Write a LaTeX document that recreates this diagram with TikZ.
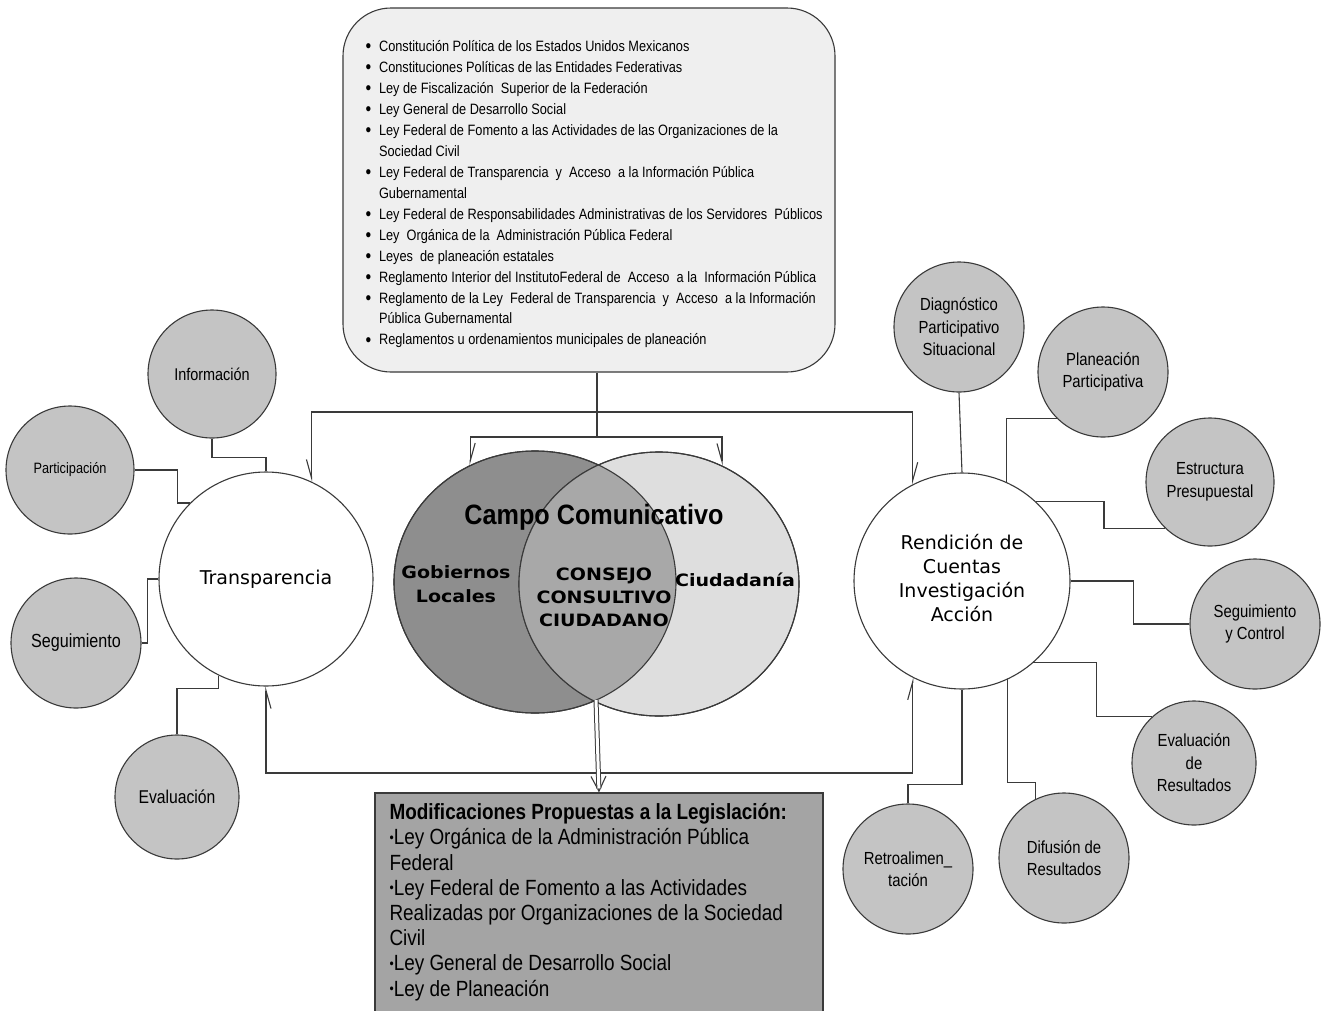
\documentclass[tikz,border=0pt]{standalone}
\usepackage{fontspec}
\setmainfont{Liberation Sans}
\newfontfamily\narrowf{Liberation Sans}[FakeStretch=0.85]
\newfontfamily\modf{Liberation Sans}[FakeStretch=0.86]
\newfontfamily\campof{Liberation Sans}[FakeStretch=0.9]
\newfontfamily\verd{DejaVu Sans}
\newfontfamily\verdb{DejaVu Sans}[FakeStretch=1.12]
\usetikzlibrary{shapes.geometric,arrows.meta}
\definecolor{lawfill}{HTML}{EFEFEF}
\definecolor{smallfill}{HTML}{C4C4C4}
\definecolor{gobfill}{HTML}{8E8E8E}
\definecolor{midfill}{HTML}{A8A8A8}
\definecolor{ciufill}{HTML}{DEDEDE}
\definecolor{modfill}{HTML}{A4A4A4}
\definecolor{linec}{HTML}{3A3A3A}
\newcommand\lawbul{\makebox[12.5pt][l]{\hspace*{-1pt}{\fontsize{19}{19}\selectfont\raisebox{-1.3pt}{\textbullet}}}}
\newcommand\lawind{\hspace*{12.5pt}}
\newcommand\modbul{{\fontsize{14}{14}\selectfont\raisebox{2.5pt}{\textbullet}}}
\begin{document}
\begin{tikzpicture}[x=1pt,y=-1pt, line width=1.1pt, color=linec,
  every node/.style={text=black},
  small/.style={circle, draw=linec, fill=smallfill, minimum size=#1, inner sep=0pt, align=center,
     font=\narrowf\fontsize{17.5}{22.5}\selectfont},
  small/.default=128pt,
  big/.style={circle, draw=linec, fill=white, minimum size=#1, inner sep=0pt, align=center,
     font=\verd\fontsize{19}{24}\selectfont},
  arr/.style={-{Straight Barb[harpoon,length=18pt,width=10pt,line width=1.1pt]}},
  arrs/.style={-{Straight Barb[harpoon,swap,length=18pt,width=10pt,line width=1.1pt]}},
]
\useasboundingbox (0,0) rectangle (1323,1010);
\fill[white] (0,0) rectangle (1323,1010);

% top box
\node[draw=linec, fill=lawfill, rounded corners=48pt, minimum width=492pt, minimum height=364pt, inner sep=0pt] (laws) at (589,190) {};
\node[anchor=north west, inner sep=0pt, align=left, font=\narrowf\fontsize{15}{20.95}\selectfont] (lawtext) at (366,40) {%
\lawbul Constitución Política de los Estados Unidos Mexicanos\\
\lawbul Constituciones Políticas de las Entidades Federativas\\
\lawbul Ley de Fiscalización \ Superior de la Federación\\
\lawbul Ley General de Desarrollo Social\\
\lawbul Ley Federal de Fomento a las Actividades de las Organizaciones de la\\
\lawind Sociedad Civil\\
\lawbul Ley Federal de Transparencia \ y \ Acceso \ a la Información Pública\\
\lawind Gubernamental\\
\lawbul Ley Federal de Responsabilidades Administrativas de los Servidores \ Públicos\\
\lawbul Ley \ Orgánica de la \ Administración Pública Federal\\
\lawbul Leyes \ de planeación estatales\\
\lawbul Reglamento Interior del InstitutoFederal de \ Acceso \ a la \ Información Pública\\
\lawbul Reglamento de la Ley \ Federal de Transparencia \ y \ Acceso \ a la Información\\
\lawind Pública Gubernamental\\
\lawbul Reglamentos u ordenamientos municipales de planeación};

% big circles
\node[big=214pt] (trans) at (266,579) {Transparencia};
\node[big=216pt] (rend) at (962,581) {\raisebox{-6pt}{\begin{tabular}{@{}c@{}}Rendición de\\Cuentas\\Investigación\\Acción\end{tabular}}};

% Venn
\node[ellipse, draw=linec, fill=gobfill, minimum width=282pt, minimum height=262pt, inner sep=0pt] (gob) at (535,582) {};
\node[ellipse, draw=linec, fill=ciufill, minimum width=280pt, minimum height=264pt, inner sep=0pt] (ciu) at (659,584) {};
\begin{scope}
  \clip (535,582) ellipse [x radius=141pt, y radius=131pt];
  \fill[midfill] (659,584) ellipse [x radius=140pt, y radius=132pt];
\end{scope}
\draw (535,582) ellipse [x radius=141pt, y radius=131pt];
\draw (659,584) ellipse [x radius=140pt, y radius=132pt];
\node[font=\campof\fontsize{28}{30}\selectfont\bfseries, inner sep=0pt] (campo) at (594,517) {Campo Comunicativo};
\node[font=\verdb\fontsize{17}{24}\selectfont\bfseries, align=center, inner sep=0pt] (gobt) at (456,584) {Gobiernos\\Locales};
\node[font=\verdb\fontsize{17}{23}\selectfont\bfseries, align=center, inner sep=0pt] (cons) at (604,597) {CONSEJO\\CONSULTIVO\\CIUDADANO};
\node[font=\verdb\fontsize{17}{24}\selectfont\bfseries, inner sep=0pt] (ciut) at (735,580) {Ciudadanía};
\coordinate (vb) at (596,700);

% bottom box
\node[draw=linec, fill=modfill, minimum width=448pt, minimum height=226pt, inner sep=0pt] (mods) at (599,906) {};
\node[anchor=north west, inner sep=0pt, align=left, font=\modf\fontsize{22}{25.2}\selectfont] (modtext) at (389,803) {%
\textbf{Modificaciones Propuestas a la Legislación:}\\
\modbul Ley Orgánica de la Administración Pública\\
Federal\\
\modbul Ley Federal de Fomento a las Actividades\\
Realizadas por Organizaciones de la Sociedad\\
Civil\\
\modbul Ley General de Desarrollo Social\\
\modbul Ley de Planeación};

% small circles left
\node[small, font=\narrowf\fontsize{17}{22}\selectfont] (info) at (212,374) {Información};
\node[small, font=\narrowf\fontsize{15}{20}\selectfont] (part) at (70,470) {Participación};
\node[small=130pt, font=\narrowf\fontsize{19}{22}\selectfont] (segu) at (76,643) {Seguimiento};
\node[small=124pt, font=\narrowf\fontsize{18.5}{22}\selectfont] (eval) at (177,797) {Evaluación};

% small circles right
\node[small=130pt] (diag) at (959,327) {Diagnóstico\\Participativo\\Situacional};
\node[small=130pt] (plan) at (1103,372) {Planeación\\Participativa};
\node[small] (estr) at (1210,482) {Estructura\\Presupuestal};
\node[small=130pt] (segc) at (1255,624) {Seguimiento\\y Control};
\node[small=124pt] (evalr) at (1194,763) {Evaluación\\de\\Resultados};
\node[small=130pt] (difu) at (1064,858) {Difusión de\\Resultados};
\node[small=130pt] (retro) at (908,869) {Retroalimen\_\\tación};

% main connectors
\coordinate (h1) at (597,412);
\coordinate (h2) at (597,437);
\draw (laws.south -| h1) -- (h1);
\draw[arrs] (h1) -| (trans.65);
\draw[arr] (h1) -| (rend.117);
\draw (h1) -- (h2);
\draw[arr] (h2) -| (gob.119);
\draw[arrs] (h2) -| (ciu.62);
\coordinate (loopc) at (600,773);
\draw[arrs] (loopc) -| (trans.south);
\draw[arr] (loopc) -| (rend.243);
\draw[-{Straight Barb[length=15pt,width=15pt,line width=1.1pt]}] (vb) -- (mods.north);
\draw[double=white, double distance=3pt, line width=1pt, shorten >=4pt] (vb) -- (mods.north);

% left connectors
\draw (info.south) -- ++(0,19) -| (trans.north);
\draw (part.east) -- ++(43,0) |- (trans.135);
\draw (segu.east) -- ++(6,0) |- (trans.west);
\draw (eval.north) -- ++(0,-46) -| (trans.244);

% right connectors
\draw (diag.south) -- (rend.north);
\draw (plan.225) -| (rend.66);
\draw (rend.47) -- ++(68,0) |- (estr.226);
\draw (rend.east) -- ++(63,0) |- (segc.west);
\draw (rend.311) -- ++(63,0) |- (evalr.132);
\draw (difu.116) -- ++(0,-17) -| (rend.295);
\draw (retro.north) -- ++(0,-19) -| (rend.south);
\end{tikzpicture}
\end{document}
